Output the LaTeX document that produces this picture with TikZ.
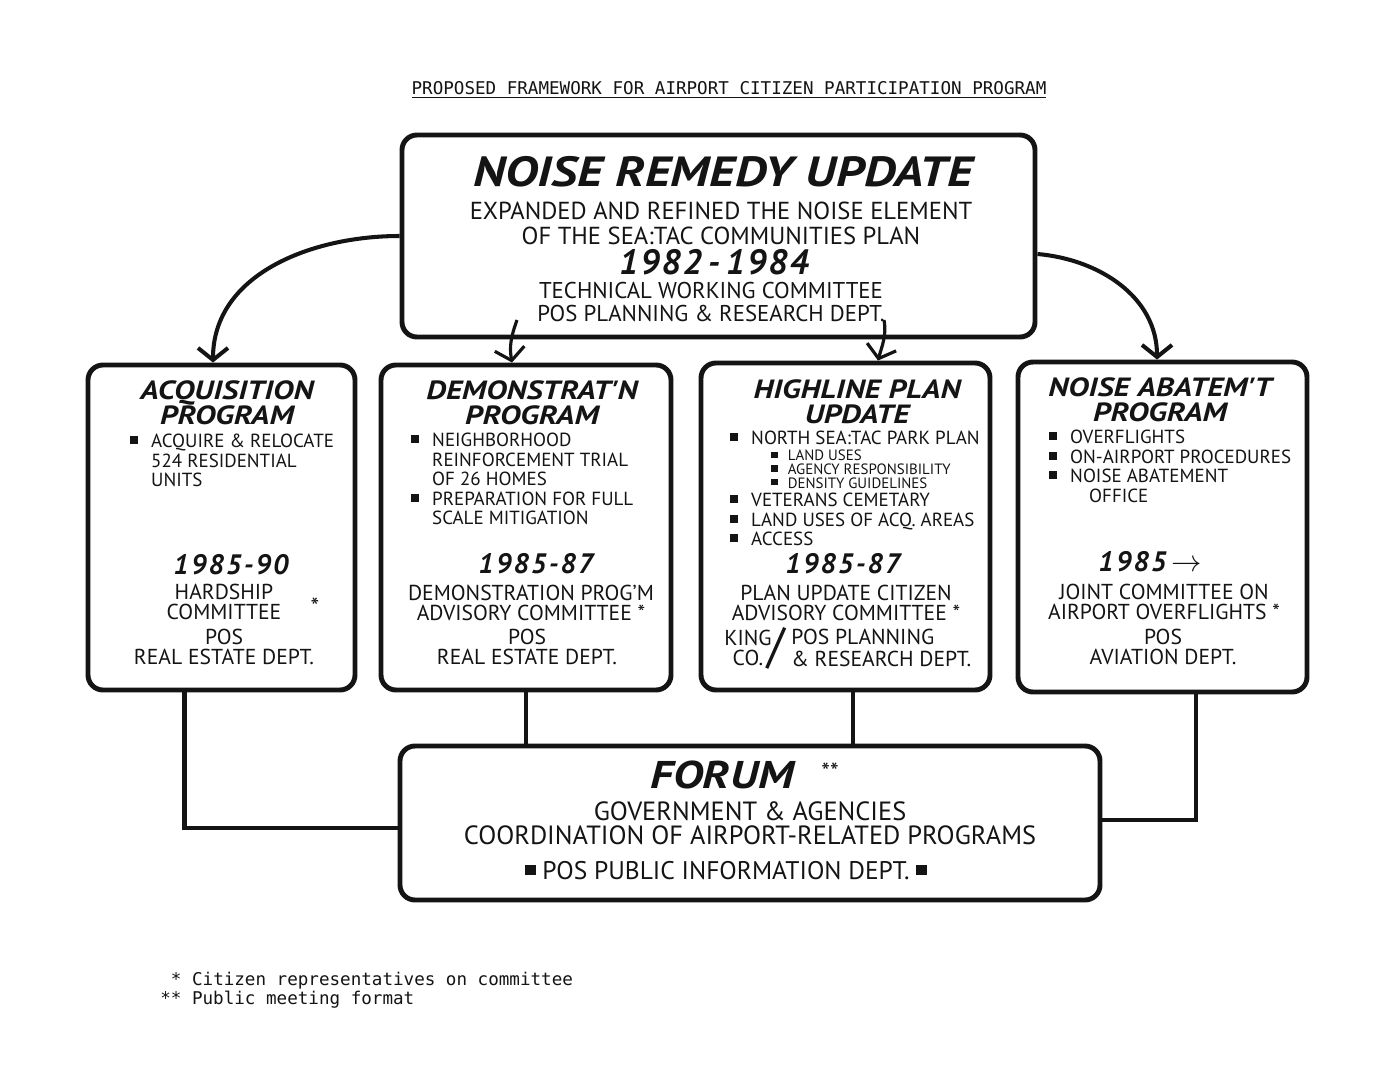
\documentclass[tikz,border=0pt]{standalone}
\usepackage{fontspec}
\setmainfont{PT Sans}
\newfontfamily\typefont{DejaVu Sans Mono}
\newfontfamily\brushfont[FakeStretch=1.2]{PT Sans}
\usetikzlibrary{arrows.meta,calc}
\definecolor{ink}{HTML}{141414}
\newcommand\bul{\makebox[1.1em][l]{\rule[.2em]{.42em}{.42em}}}
\newcommand\hang{\hspace*{1.1em}}
\tikzset{
  panel/.style={rectangle, rounded corners=3mm, draw=ink, line width=2.8pt, inner sep=0pt},
  headline/.style={inner sep=0pt, align=center, text=ink, font=\brushfont\bfseries\itshape\fontsize{15}{14}\selectfont},
  years/.style={inner sep=0pt, text=ink, font=\bfseries\itshape\fontsize{16}{16}\selectfont\addfontfeature{LetterSpace=8}},
  bodytext/.style={inner sep=0pt, align=center, text=ink, font=\fontsize{12.3}{11.8}\selectfont},
  bullets/.style={inner sep=0pt, align=left, anchor=north west, text=ink, font=\fontsize{10.8}{11.1}\selectfont},
  typed/.style={inner sep=0pt, text=ink, font=\typefont\fontsize{10}{9.1}\selectfont},
  arr/.style={-{Straight Barb[length=2.4mm,width=6mm]}, line width=2.3pt, draw=ink},
  link/.style={line width=2.8pt, draw=ink},
}
\begin{document}
\begin{tikzpicture}[x=0.2mm, y=0.2mm]
  \fill[white] (0,0) rectangle (1399,-1084);
  \useasboundingbox (0,0) rectangle (1399,-1084);

  \node[typed] (title) at (729,-90)
    {\underline{PROPOSED FRAMEWORK FOR AIRPORT CITIZEN PARTICIPATION PROGRAM}};

  \node[panel, minimum width=126.6mm, minimum height=40.4mm] (nru) at (718.5,-236) {};
  \node[headline, font=\brushfont\bfseries\itshape\fontsize{24}{24}\selectfont] (nruT) at (723,-172)
    {NOISE REMEDY UPDATE};
  \node[bodytext, font=\fontsize{14}{14.2}\selectfont] (nruD) at (721,-223)
    {EXPANDED AND REFINED THE NOISE ELEMENT\\OF THE SEA:TAC COMMUNITIES PLAN};
  \node[years, font=\bfseries\itshape\fontsize{20}{20}\selectfont\addfontfeature{LetterSpace=6}] (nruY) at (714,-262)
    {1982\,-\,1984};
  \node[bodytext, font=\fontsize{13}{13}\selectfont] (nruC) at (711,-302)
    {TECHNICAL WORKING COMMITTEE\\POS PLANNING \& RESEARCH DEPT.};

  \node[panel, minimum width=53.4mm, minimum height=65mm] (acq) at (221.5,-527.5) {};
  \node[headline] (acqH) at (227,-403) {ACQUISITION\\PROGRAM};
  \node[bullets] (acqB) at (130,-434)
    {\bul ACQUIRE \& RELOCATE\\\hang 524 RESIDENTIAL\\\hang UNITS};
  \node[years] (acqY) at (231,-565) {1985-90};
  \node[bodytext] (acqC) at (224,-602) {HARDSHIP\\COMMITTEE};
  \node[bodytext, font=\fontsize{14}{14}\selectfont] (acqS) at (315,-607) {*};
  \node[bodytext] (acqD) at (224,-647) {POS\\REAL ESTATE DEPT.};

  \node[panel, minimum width=58mm, minimum height=65mm] (demo) at (526,-527.5) {};
  \node[headline] (demoH) at (532,-403) {DEMONSTRAT'N\\PROGRAM};
  \node[bullets] (demoB) at (411,-433)
    {\bul NEIGHBORHOOD\\\hang REINFORCEMENT TRIAL\\\hang OF 26 HOMES\\
     \bul PREPARATION FOR FULL\\\hang SCALE MITIGATION};
  \node[years] (demoY) at (536,-564) {1985-87};
  \node[bodytext] (demoC) at (531,-603) {DEMONSTRATION PROG'M\\ADVISORY COMMITTEE *};
  \node[bodytext] (demoD) at (527,-647) {POS\\REAL ESTATE DEPT.};

  \node[panel, minimum width=57.8mm, minimum height=65.4mm] (high) at (845.5,-526.5) {};
  \node[headline] (highH) at (857,-402) {HIGHLINE PLAN\\UPDATE};
  \node[bullets] (highB) at (730,-431) {\bul NORTH SEA:TAC PARK PLAN};
  \node[bullets, font=\fontsize{8.5}{7.8}\selectfont] (highS) at (771,-450)
    {\bul LAND USES\\\bul AGENCY RESPONSIBILITY\\\bul DENSITY GUIDELINES};
  \node[bullets] (highB2) at (730,-493)
    {\bul VETERANS CEMETARY\\\bul LAND USES OF ACQ. AREAS\\\bul ACCESS};
  \node[years] (highY) at (843,-564) {1985-87};
  \node[bodytext] (highC) at (846,-603) {PLAN UPDATE CITIZEN\\ADVISORY COMMITTEE *};
  \node[bodytext] (highK) at (748,-648) {KING\\CO.};
  \node[bodytext, font=\fontsize{28}{28}\selectfont] (highSl) at (776,-648) {/};
  \node[bodytext, align=left, anchor=west, font=\fontsize{12.3}{12.8}\selectfont] (highD) at (791,-648)
    {POS PLANNING\\\& RESEARCH DEPT.};

  \node[panel, minimum width=57.8mm, minimum height=66mm] (abate) at (1162.5,-527) {};
  \node[headline] (abateH) at (1160,-400) {NOISE ABATEM'T\\PROGRAM};
  \node[bullets] (abateB) at (1049,-430)
    {\bul OVERFLIGHTS\\\bul ON-AIRPORT PROCEDURES\\\bul NOISE ABATEMENT\\\hang\hspace*{1em}OFFICE};
  \node[years] (abateY) at (1150,-562) {1985\,$\rightarrow$};
  \node[bodytext] (abateC) at (1164,-602) {JOINT COMMITTEE ON\\AIRPORT OVERFLIGHTS *};
  \node[bodytext] (abateD) at (1163,-647) {POS\\AVIATION DEPT.};

  \node[panel, minimum width=140mm, minimum height=30.8mm] (forum) at (750,-823) {};
  \node[headline, font=\brushfont\bfseries\itshape\fontsize{22}{22}\selectfont] (forumT) at (722,-775) {FORUM};
  \node[bodytext, font=\fontsize{14}{14}\selectfont] (forumS) at (830,-772) {**};
  \node[bodytext, font=\fontsize{15}{13.5}\selectfont] (forumD) at (750,-823)
    {GOVERNMENT \& AGENCIES\\COORDINATION OF AIRPORT-RELATED PROGRAMS};
  \node[bodytext, font=\fontsize{14.5}{14}\selectfont] (forumP) at (726,-871)
    {\rule[.2em]{.4em}{.4em}\ POS PUBLIC INFORMATION DEPT.\ \rule[.2em]{.4em}{.4em}};

  \node[typed, anchor=north west, align=left] (notes) at (160,-972)
    {~* Citizen representatives on committee\\** Public meeting format};

  \draw[arr] (nru.west) to[out=180,in=90] ($(acq.north)+(-8.5,0)$);
  \draw[arr] ($(nru.east)+(0,-18)$) to[out=-5,in=90] ($(abate.north)+(-5.5,0)$);
  \coordinate (demoIn) at (517,-320);
  \coordinate (highIn) at (884,-320);
  \draw[arr, line width=1.8pt] (demoIn) to[out=250,in=100] ($(demo.north)+(-14,0)$);
  \draw[arr, line width=1.8pt] (highIn) to[out=-80,in=75] ($(high.north)+(32.5,0)$);

  \draw[link] ($(acq.south west)!0.363!(acq.south east)$) |- ($(forum.west)+(0,-5)$);
  \draw[link] (demo.south) -- (demo.south |- forum.north);
  \draw[link] ($(high.south)+(7.5,0)$) coordinate (hs) -- (hs |- forum.north);
  \draw[link] ($(abate.south)+(33.5,0)$) |- ($(forum.east)+(0,3)$);
\end{tikzpicture}
\end{document}
